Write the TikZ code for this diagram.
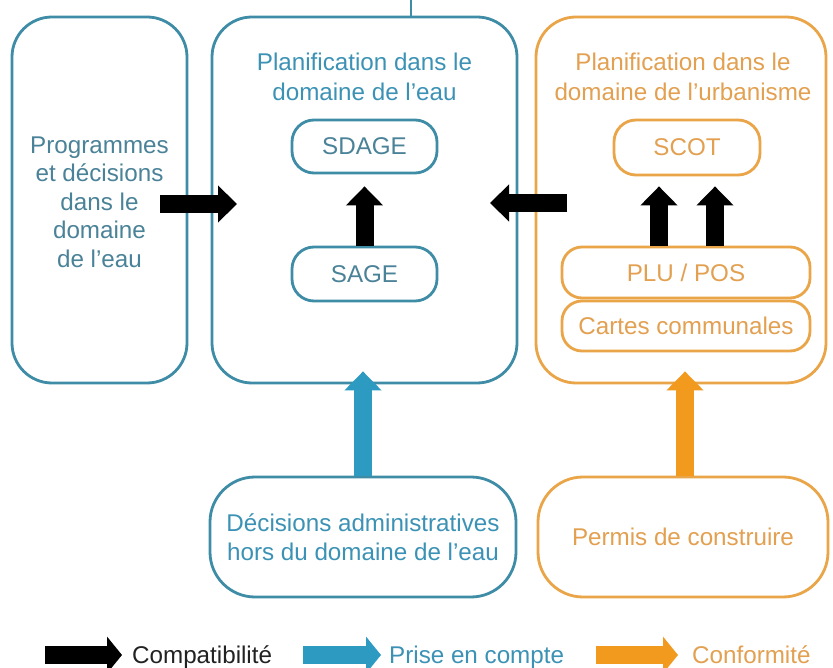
\documentclass[tikz,border=0pt]{standalone}
\usepackage{fontspec}
\setmainfont{Liberation Sans}
\usetikzlibrary{arrows.meta}
\definecolor{bluebord}{HTML}{3E8CA6}
\definecolor{bluetext}{HTML}{3C92B5}
\definecolor{blueshade}{HTML}{4A8298}
\definecolor{bluearrow}{HTML}{2D9AC2}
\definecolor{orbord}{HTML}{E9A548}
\definecolor{ortext}{HTML}{E2A050}
\definecolor{orarrow}{HTML}{F29A1E}
\definecolor{legtext}{HTML}{222222}
\tikzset{
  bigbox/.style={draw, line width=2.8pt, rounded corners=40pt, rectangle, inner sep=0pt},
  smallbox/.style={draw, line width=2.8pt, rounded corners=22pt, rectangle, inner sep=0pt},
  bluebox/.style={draw=bluebord, text=blueshade},
  orbox/.style={draw=orbord, text=ortext},
  txt/.style={font=\fontsize{24.2}{29}\selectfont, align=center, inner sep=0pt},
  blockarrow/.style={line width=18pt, -{Triangle[width=36pt,length=19pt]}},
  legarrow/.style={line width=18pt, -{Triangle[width=36pt,length=15pt]}},
}
\begin{document}
\begin{tikzpicture}[x=1pt,y=-1pt]
\useasboundingbox (0,0) rectangle (833,668);
\fill[white] (0,0) rectangle (833,668);
% top stub
\coordinate (stubtop) at (411,0);
% big boxes
\node[bigbox,bluebox, minimum width=175pt, minimum height=366pt] (prog) at (99.5,200) {};
\node[bigbox,bluebox, minimum width=305pt, minimum height=366pt] (eau) at (364.5,200) {};
\node[bigbox,orbox, minimum width=290pt, minimum height=366pt] (urb) at (681,200) {};
\draw[bluebord, line width=2pt] (stubtop) -- (stubtop |- eau.north);
% texts in big boxes
\node[txt, text=blueshade, font=\fontsize{24.2}{28.5}\selectfont] (progtxt) at (99.5,202)
  {Programmes\\et décisions\\dans le\\domaine\\de l’eau};
\node[txt, text=bluetext, font=\fontsize{24.2}{30}\selectfont] (eautitle) at (364.5,77)
  {Planification dans le\\domaine de l’eau};
\node[txt, text=ortext, font=\fontsize{24.2}{30}\selectfont] (urbtitle) at (683,77)
  {Planification dans le\\domaine de l’urbanisme};
% small boxes
\node[smallbox,bluebox,txt, minimum width=145pt, minimum height=53pt] (sdage) at (364.5,146.5) {SDAGE};
\node[smallbox,bluebox,txt, minimum width=145pt, minimum height=54pt] (sage) at (364.5,274) {SAGE};
\node[smallbox,orbox,txt, minimum width=146pt, minimum height=55pt] (scot) at (687,147.5) {SCOT};
\node[smallbox,orbox,txt, rounded corners=20pt, minimum width=248pt, minimum height=51pt] (plu) at (686,272.5) {PLU / POS};
\node[smallbox,orbox,txt, rounded corners=20pt, minimum width=248pt, minimum height=50pt] (cartes) at (686,326) {Cartes communales};
% bottom boxes
\node[bigbox,bluebox,txt, rounded corners=45pt, minimum width=306pt, minimum height=120pt, text=bluetext] (decis) at (363,537)
  {Décisions administratives\\hors du domaine de l’eau};
\node[bigbox,orbox,txt, rounded corners=45pt, minimum width=290pt, minimum height=120pt] (permis) at (683,537)
  {Permis de construire};
% black arrows
\coordinate (progout) at (160,204);
\coordinate (eauin) at (237,204);
\draw[blockarrow, black] (progout) -- (eauin);
\coordinate (urbout) at (567,203);
\coordinate (eauin2) at (490,203);
\draw[blockarrow, black] (urbout) -- (eauin2);
\draw[blockarrow, black] (sage.north) -- ([yshift=-12pt]sdage.south);
\draw[blockarrow, black] (plu.north -| 659,0) -- ([yshift=-10pt]scot.south -| 659,0);
\draw[blockarrow, black] (plu.north -| 715,0) -- ([yshift=-10pt]scot.south -| 715,0);
% bottom arrows
\draw[blockarrow, bluearrow] (decis.north) -- ([yshift=13pt]decis.north |- eau.south);
\draw[blockarrow, orarrow] (permis.north -| 685,0) -- ([yshift=13pt]urb.south -| 685,0);
% legend
\coordinate (l1a) at (45,655); \coordinate (l1b) at (122,655);
\coordinate (l2a) at (303,655); \coordinate (l2b) at (381,655);
\coordinate (l3a) at (596,655); \coordinate (l3b) at (678,655);
\draw[legarrow, black] (l1a) -- (l1b);
\draw[legarrow, bluearrow] (l2a) -- (l2b);
\draw[legarrow, orarrow] (l3a) -- (l3b);
\node[txt, text=legtext, anchor=base west] (leg1) at (132,663) {Compatibilité};
\node[txt, text=bluetext, anchor=base west] (leg2) at (389,663) {Prise en compte};
\node[txt, text=ortext, anchor=base west] (leg3) at (692,663) {Conformité};
\end{tikzpicture}
\end{document}
